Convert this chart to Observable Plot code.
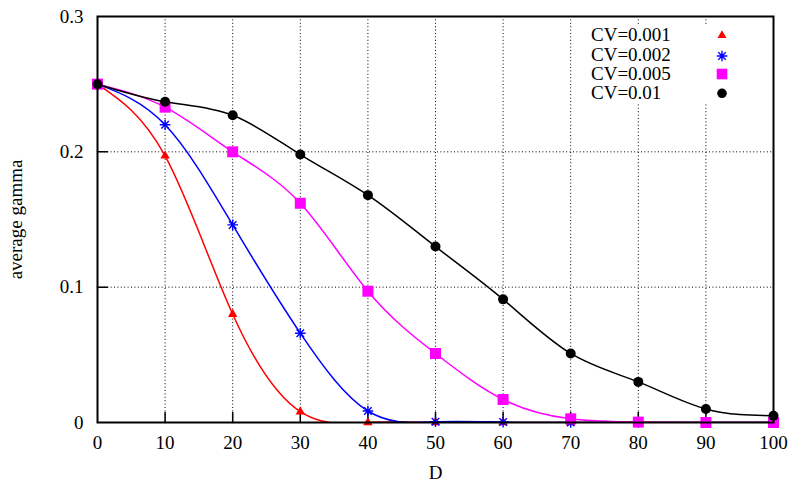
<!DOCTYPE html>
<html>
<head>
<meta charset="utf-8">
<script src="https://cdn.jsdelivr.net/npm/d3@7"></script>
<script src="https://cdn.jsdelivr.net/npm/@observablehq/plot@0.6"></script>
<style>
  html, body { margin: 0; padding: 0; background: #fff; }
  #wrap { position: relative; width: 793px; height: 484px; }
  #legend { position: absolute; left: 575px; top: 24px; width: 168px; height: 80px; background: #fff;
            font-family: "Liberation Serif", "Times New Roman", serif; font-size: 19px; color: #000; }
  .row { position: absolute; left: 16px; height: 20px; line-height: 20px; white-space: nowrap; }
  .mk { position: absolute; left: 137px; width: 20px; height: 20px; }
</style>
</head>
<body>
<div id="wrap"><div id="legend"></div></div>
<script>
// ---- data ----
const D = [0, 10, 20, 30, 40, 50, 60, 70, 80, 90, 100];
const seriesNames = ["CV=0.001", "CV=0.002", "CV=0.005", "CV=0.01"];
const cv001 = [0.250, 0.197, 0.080, 0.008, 0.000, 0.000, 0.000, 0.000, 0.000, 0.000, 0.000];
const cv002 = [0.250, 0.220, 0.146, 0.066, 0.0085, 0.0005, 0.0003, 0.000, 0.000, 0.000, 0.000];
const cv005 = [0.250, 0.233, 0.200, 0.162, 0.097, 0.051, 0.017, 0.0027, 0.0003, 0.000, 0.000];
const cv01  = [0.250, 0.237, 0.227, 0.198, 0.168, 0.130, 0.091, 0.051, 0.030, 0.010, 0.005];
const xTicks = [0, 10, 20, 30, 40, 50, 60, 70, 80, 90, 100];
const yTicks = [0, 0.1, 0.2, 0.3];
const xGrid = [10, 20, 30, 40, 50, 60, 70, 80, 90];
const yGrid = [0.1, 0.2];

// ---- styles ----
const colors = ["#ff0000", "#0000ff", "#ff00ff", "#000000"];
const star = {
  draw(ctx, size) {
    const r = Math.sqrt(size / Math.PI), d = r * Math.SQRT1_2;
    ctx.moveTo(-r, 0); ctx.lineTo(r, 0);
    ctx.moveTo(0, -r); ctx.lineTo(0, r);
    ctx.moveTo(-d, -d); ctx.lineTo(d, d);
    ctx.moveTo(-d, d); ctx.lineTo(d, -d);
  }
};
const tickShape = { draw(ctx, l) { ctx.moveTo(0, 0); ctx.lineTo(0, -l); } };

const values = [cv001, cv002, cv005, cv01];
const rows = values.map((vals, i) => D.map((d, j) => ({D: d, g: vals[j], s: seriesNames[i]})));

const dotSpecs = [
  {symbol: "triangle", r: 3.5, fill: colors[0], stroke: "none"},
  {symbol: star, r: 5.3, fill: "none", stroke: colors[1], strokeWidth: 1.4},
  {symbol: "square", r: 6.2, fill: colors[2], stroke: "none"},
  {symbol: "circle", r: 5, fill: colors[3], stroke: "none"}
];

const marks = [
  Plot.ruleX(xGrid, {stroke: "#000", strokeWidth: 1, strokeDasharray: "1,2.4"}),
  Plot.ruleY(yGrid, {stroke: "#000", strokeWidth: 1, strokeDasharray: "1,2.4"}),
  Plot.vector(xGrid, {x: d => d, frameAnchor: "bottom", length: 10, rotate: 0, anchor: "start", shape: tickShape, stroke: "#000", strokeWidth: 1.5}),
  Plot.vector(yGrid, {y: d => d, frameAnchor: "left", length: 10, rotate: 90, anchor: "start", shape: tickShape, stroke: "#000", strokeWidth: 1.5}),
  Plot.axisX({ticks: xTicks, tickSize: 0, tickPadding: 13, tickFormat: d => String(d), label: "D", labelAnchor: "center", labelOffset: 56, labelArrow: "none"}),
  Plot.axisY({ticks: yTicks, tickSize: 0, tickPadding: 14, tickFormat: d => d === 0 ? "0" : d.toFixed(1), label: "average gamma", labelAnchor: "center", labelOffset: 89, labelArrow: "none"})
];
rows.forEach((data, i) => {
  marks.push(Plot.line(data, {x: "D", y: "g", curve: "natural", stroke: colors[i], strokeWidth: 1.5, clip: true}));
  marks.push(Plot.dot(data, {x: "D", y: "g", ...dotSpecs[i]}));
});
marks.push(Plot.frame({stroke: "#000", strokeWidth: 2}));

const chart = Plot.plot({
  width: 793,
  height: 484,
  marginLeft: 97,
  marginRight: 20,
  marginTop: 16,
  marginBottom: 62,
  style: {fontFamily: "Liberation Serif, 'Times New Roman', serif", fontSize: "19px", background: "#fff", color: "#000"},
  x: {domain: [0, 100], ticks: xTicks},
  y: {domain: [0, 0.3], ticks: yTicks},
  marks
});
const wrap = document.getElementById("wrap");
wrap.insertBefore(chart, wrap.firstChild);

// ---- legend (inside the plot area, top right) ----
const legend = document.getElementById("legend");
const rowTops = [1, 21, 40, 59];
const legendSvgs = [
  `<svg width="20" height="20"><path d="M10,5.3L14.5,13L5.5,13Z" fill="${colors[0]}"/></svg>`,
  `<svg width="20" height="20"><path d="M4.7,11H15.3M10,5.7V16.3M6.3,7.3L13.7,14.7M6.3,14.7L13.7,7.3" stroke="${colors[1]}" stroke-width="1.4" fill="none"/></svg>`,
  `<svg width="20" height="20"><rect x="4.7" y="4.7" width="10.6" height="10.6" fill="${colors[2]}"/></svg>`,
  `<svg width="20" height="20"><circle cx="10" cy="10.3" r="4.8" fill="${colors[3]}"/></svg>`
];
seriesNames.forEach((name, i) => {
  const t = document.createElement("div");
  t.className = "row";
  t.style.top = rowTops[i] + "px";
  t.textContent = name;
  legend.appendChild(t);
  const m = document.createElement("div");
  m.className = "mk";
  m.style.top = rowTops[i] + "px";
  m.innerHTML = legendSvgs[i];
  legend.appendChild(m);
});
</script>
</body>
</html>
